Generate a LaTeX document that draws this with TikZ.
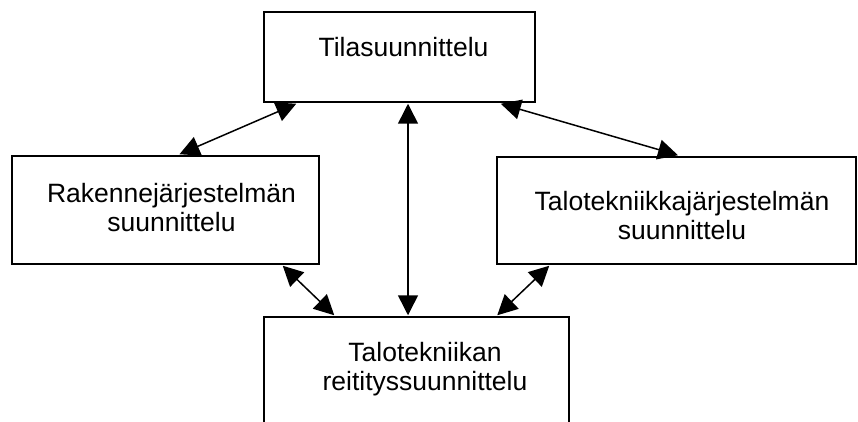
\documentclass[tikz,border=0pt]{standalone}
\usepackage{fontspec}
\setmainfont{Liberation Sans}
\usetikzlibrary{arrows.meta,calc}
\tikzset{
  box/.style={shape=rectangle, draw=black, line width=1.5pt, inner sep=0pt},
  caption/.style={align=center, font=\fontsize{26.5}{29}\selectfont, inner sep=0pt},
  link/.style={{Triangle[length=20pt,width=20pt]}-{Triangle[length=20pt,width=20pt]}, line width=1.5pt, draw=black}
}
\begin{document}
\begin{tikzpicture}[x=1pt,y=1pt]
\useasboundingbox (0,0) rectangle (858,421);
\node[box, minimum width=271pt, minimum height=90pt] (tila) at (399.5,364) {};
\node[box, minimum width=307pt, minimum height=108pt] (rak) at (165.5,211) {};
\node[box, minimum width=359pt, minimum height=107pt] (talo) at (676.5,210.5) {};
\node[box, minimum width=305pt, minimum height=110pt] (reit) at (416.5,49) {};
\node[caption] (tilatext) at ($(tila.center)+(4,10)$) {Tilasuunnittelu};
\node[caption] (raktext) at ($(rak.center)+(6,2.5)$) {Rakennejärjestelmän\\suunnittelu};
\node[caption] (talotext) at ($(talo.center)+(5.5,-5.5)$) {Talotekniikkajärjestelmän\\suunnittelu};
\node[caption] (reittext) at ($(reit.center)+(8.5,3)$) {Talotekniikan\\reitityssuunnittelu};
\draw [link] ($(rak.north)+(14,1)$) -- ($(tila.south west)+(33,-1)$);
\draw [link] ($(tila.south)+(8.5,-1)$) -- ($(reit.north)+(-8.5,1)$);
\draw [link] ($(tila.south east)+(-35,-1)$) -- ($(talo.north)+(1.5,1)$);
\draw [link] ($(rak.south east)+(-37,-1)$) -- ($(reit.north west)+(71,1)$);
\draw [link] ($(talo.south west)+(53,-1)$) -- ($(reit.north west)+(234,1)$);
\end{tikzpicture}
\end{document}
